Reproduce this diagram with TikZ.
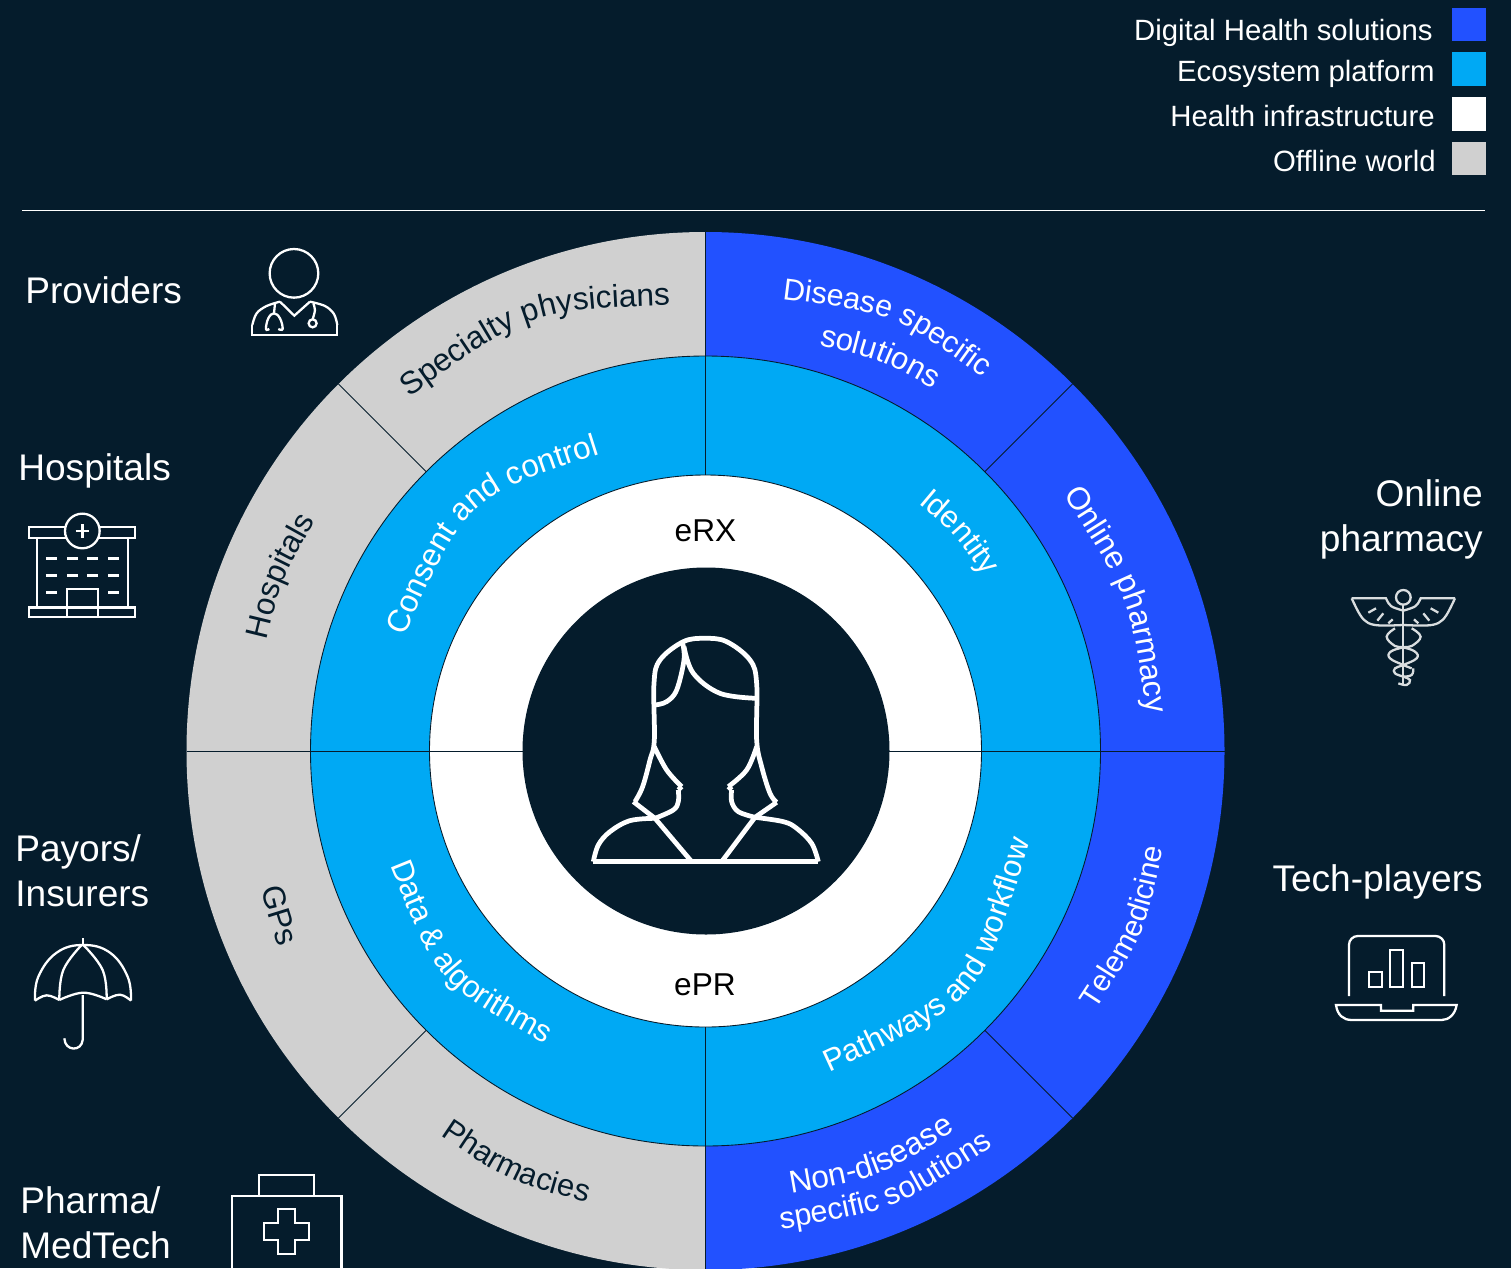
\documentclass[tikz,border=0pt]{standalone}
\usepackage{fontspec}
\usepackage{xcolor}
\usetikzlibrary{calc,decorations.text}
\setmainfont{Liberation Sans}
\definecolor{pagenavy}{HTML}{051C2C}
\definecolor{dhblue}{HTML}{2251FF}
\definecolor{ecocyan}{HTML}{00A9F4}
\definecolor{offgrey}{HTML}{D0D0D0}
\newcommand{\ringlabel}[6][18]{\path[decorate,decoration={text along path,text format delimiters={|}{|},text={|\fontsize{#1}{20}\selectfont\color{#2}|#6}}] #3 .. controls #4 .. #5 -- ($#5!-0.5!#4$);}

\begin{document}
\begin{tikzpicture}[x=0.02cm,y=-0.02cm,
                    seam/.style={draw=pagenavy,line width=0.5pt},
                    legendtext/.style={anchor=base east,inner sep=0pt,text=white,font=\fontsize{16.7}{20}\selectfont},
                    swatch/.style={inner sep=0pt,minimum width=0.68cm,minimum height=0.67cm},
                    grouptext/.style={anchor=base west,inner sep=0pt,text=white,align=left,font=\fontsize{21.1}{25.6}\selectfont},
                    grouptextr/.style={grouptext,anchor=base east,align=right},
                    ringtext/.style={inner sep=0pt,text=black,font=\fontsize{18}{20}\selectfont},
                    icon/.style={draw=white,line width=1.3pt,line join=miter}]
                        \clip (0,0) rectangle (1511,1268);
                        \fill[pagenavy] (0,0) rectangle (1511,1268);

                        \begin{scope}[shift={(705.5,751)},y=0.02cm]
                            \fill[offgrey] (90:519) arc[start angle=90,end angle=270,radius=519] -- cycle;
                            \fill[dhblue] (-90:519) arc[start angle=-90,end angle=90,radius=519] -- cycle;
                            \draw[seam,fill=ecocyan] (0,0) circle[radius=395];
                            \draw[seam,fill=white] (0,0) circle[radius=276];
                            \fill[pagenavy] (0.5,0) circle[radius=183.5];
                            \foreach \a in {45,135,225,315}
                                \draw[seam] (\a:395) -- (\a:519);
                            \foreach \a in {90,270}
                                \draw[seam] (\a:276) -- (\a:519);
                            \foreach \a in {0,180}
                                \draw[seam] (\a:183) -- (\a:519);
                        \end{scope}

                        \coordinate (rulel) at (22,210);
                        \coordinate (ruler) at (1485,210);
                        \draw[white,line width=0.5pt] (rulel) -- (ruler);

                        \node (legdigital) at (1433,40) [legendtext] {Digital Health solutions};
                        \node (legeco) at (1435,81) [legendtext] {Ecosystem platform};
                        \node (leghealth) at (1435,126) [legendtext] {Health infrastructure};
                        \node (legoffline) at (1436,171) [legendtext] {Offline world};
                        \node (swdigital) at (1469,24.5) [swatch,fill=dhblue] {};
                        \node (sweco) at (1469,69) [swatch,fill=ecocyan] {};
                        \node (swhealth) at (1469,114) [swatch,fill=white] {};
                        \node (swoffline) at (1469,158.5) [swatch,fill=offgrey] {};

                        \node (providers) at (25,303) [grouptext] {Providers};
                        \node (hospitals) at (18,480) [grouptext] {Hospitals};
                        \node (payors) at (15,906) [grouptext] {Payors/\\Insurers};
                        \node (pharma) at (20,1258) [grouptext] {Pharma/\\MedTech};
                        \node (online) at (1483,551) [grouptextr] {Online\\pharmacy};
                        \node (techplayers) at (1483,891) [grouptextr] {Tech-players};

                        \node (erx) at (705.5,531) [ringtext] {eRX};
                        \node (epr) at (705,985) [ringtext] {ePR};

                        \ringlabel{pagenavy}{(409,397)}{(530,310)}{(676,305)}{Specialty physicians}
                        \ringlabel{pagenavy}{(267,640)}{(281,582)}{(313,525)}{Hospitals}
                        \ringlabel{pagenavy}{(262,888)}{(269,918)}{(278,944)}{GPs}
                        \ringlabel[17.6]{pagenavy}{(440,1135)}{(508,1181)}{(585,1202)}{Pharmacies}
                        \ringlabel{white}{(404,636)}{(468,496)}{(610,451)}{Consent and control}
                        \ringlabel[17.6]{white}{(918,503)}{(955,534)}{(983,574)}{Identity}
                        \ringlabel[17.6]{white}{(390,865)}{(438,984)}{(546,1044)}{Data {\&} algorithms}
                        \ringlabel[17.7]{white}{(829,1072)}{(981,1002)}{(1028,848)}{Pathways and workflow}
                        \ringlabel[17.3]{white}{(782,299)}{(894,313)}{(985,379)}{Disease specific}
                        \ringlabel[17.7]{white}{(819,345)}{(880,359)}{(937,391)}{solutions}
                        \ringlabel{white}{(1063,494)}{(1130,598)}{(1147,714)}{Online pharmacy}
                        \ringlabel[17]{white}{(1095,1010)}{(1145,933)}{(1164,846)}{Telemedicine}
                        \ringlabel{white}{(791,1193)}{(878,1178)}{(953,1132)}{Non-disease}
                        \ringlabel[17.4]{white}{(781,1229)}{(895,1210)}{(992,1147)}{specific solutions}

                        % patient
                        \begin{scope}[shift={(560,610)},scale=0.3333,every path/.style={draw=white,line width=2.7pt}]
                            \draw plot[smooth,tension=.6] coordinates {(225,575) (248,530) (270,450) (283,390) (282,220) (300,150) (370,95) (435,85) (500,95) (570,150) (590,220) (590,390) (605,470) (630,550) (650,577)};
                            \draw plot[smooth,tension=.6] coordinates {(283,410) (320,480) (365,530)};
                            \draw (365,530) -- (355,540);
                            \draw plot[smooth,tension=.6] coordinates {(355,540) (355,575) (340,600) (285,625)};
                            \draw plot[smooth,tension=.6] coordinates {(590,410) (560,480) (505,530)};
                            \draw (505,530) -- (515,540);
                            \draw plot[smooth,tension=.6] coordinates {(515,540) (515,575) (535,605) (585,622)};
                            \draw (220,575) -- (285,625) -- (395,755);
                            \draw (650,577) -- (585,622) -- (485,755);
                            \draw plot[smooth,tension=.6] coordinates {(285,625) (210,632) (150,665) (115,705) (100,755)};
                            \draw (100,755) -- (775,755);
                            \draw plot[smooth,tension=.6] coordinates {(775,755) (755,700) (710,655) (670,635) (585,622)};
                            \draw plot[smooth,tension=.6] coordinates {(368,100) (372,150) (350,240) (320,275) (285,285)};
                            \draw plot[smooth,tension=.6] coordinates {(372,110) (400,190) (480,250) (590,265)};
                        \end{scope}

                        % doctor and hospital
                        \begin{scope}[shift={(0,230)},scale=0.3333,every path/.style={icon}]
                            \draw (882,130) circle[radius=73];
                            \draw (757,285) -- (757,315) -- (1012,315) -- (1012,285);
                            \draw plot[smooth,tension=.6] coordinates {(757,285) (770,250) (800,228) (840,215)};
                            \draw (840,215) -- (883,257) -- (930,215);
                            \draw plot[smooth,tension=.6] coordinates {(930,215) (975,228) (1002,252) (1012,285)};
                            \draw (825,222) -- (822,250);
                            \draw plot[smooth,tension=.7] coordinates {(808,297) (798,297) (805,265) (822,250) (840,265) (848,297) (835,297)};
                            \draw plot[smooth,tension=.6] coordinates {(940,220) (945,240) (938,268)};
                            \draw (938,280) circle[radius=12];

                            \draw (247,903) circle[radius=52];
                            \draw (195,892) -- (88,892) -- (88,923) -- (197,923);
                            \draw (299,892) -- (405,892) -- (405,923) -- (297,923);
                            \draw (110,923) -- (110,1133);
                            \draw (385,923) -- (385,1133);
                            \draw (88,1133) rectangle (405,1162);
                            \draw (200,1162) -- (200,1077) -- (295,1077) -- (295,1162);
                            \draw[line width=1.6pt] (227,903) -- (267,903) (247,883) -- (247,923);
                            \foreach \y in {985,1036}
                                \foreach \x in {138,202,262,325}
                                    \draw[line width=1.6pt] (\x,\y) -- ++(32,0);
                            \foreach \x in {138,325}
                                \draw[line width=1.6pt] (\x,1087) -- ++(32,0);
                        \end{scope}

                        % caduceus
                        \begin{scope}[shift={(1300,570)},scale=0.3333,every path/.style={draw=white!85!pagenavy,line width=1.3pt}]
                            \draw (310,82) circle[radius=22];
                            \draw (310,105) -- (310,345);
                            \draw (155,85) -- (258,85) .. controls (270,110) .. (310,122);
                            \draw (465,85) -- (362,85) .. controls (350,110) .. (310,122);
                            \draw (155,85) .. controls (195,170) .. (310,165);
                            \draw (465,85) .. controls (425,170) .. (310,165);
                            \draw (205,128) -- (228,115) (232,152) -- (250,130) (265,160) -- (278,148);
                            \draw (415,128) -- (392,115) (388,152) -- (370,130) (355,160) -- (342,148);
                            \draw plot[smooth,tension=.7] coordinates {(285,175) (260,200) (285,228) (310,232) (345,245) (350,265) (310,285) (285,295) (285,310) (310,320) (330,330) (320,345) (295,340)};
                            \draw plot[smooth,tension=.7] coordinates {(335,175) (362,200) (335,228) (310,232) (272,245) (270,265) (310,285) (335,295)};
                            \draw plot[smooth,tension=.7] coordinates {(340,295) (335,315) (310,320)};
                        \end{scope}

                        % laptop
                        \begin{scope}[shift={(1300,920)},scale=0.3333,every path/.style={icon}]
                            \draw[rounded corners=5pt] (147,228) -- (147,48) -- (433,48) -- (433,228);
                            \draw (207,155) rectangle (245,200);
                            \draw (270,90) rectangle (308,200);
                            \draw (335,128) rectangle (373,200);
                            \draw (108,255) -- (243,255) -- (243,272) -- (340,272) -- (340,255) -- (470,255) .. controls (465,285) and (445,300) .. (425,300) -- (155,300) .. controls (130,300) and (112,285) .. (108,255) -- cycle;
                        \end{scope}

                        % umbrella and medical case
                        \begin{scope}[shift={(0,920)},scale=0.3333,every path/.style={icon}]
                            \draw (250,55) -- (250,75);
                            \draw plot[smooth,tension=.7] coordinates {(105,242) (115,170) (170,98) (250,75) (330,98) (383,170) (393,242)};
                            \draw plot[smooth,tension=.7] coordinates {(105,242) (140,226) (178,240)};
                            \draw plot[smooth,tension=.7] coordinates {(178,240) (250,218) (320,238)};
                            \draw plot[smooth,tension=.7] coordinates {(320,238) (360,224) (393,242)};
                            \draw plot[smooth,tension=.7] coordinates {(178,240) (190,150) (245,75)};
                            \draw plot[smooth,tension=.7] coordinates {(320,238) (308,150) (250,75)};
                            \draw (248,225) -- (248,360) .. controls (245,395) and (195,395) .. (193,355);

                            \draw (695,1100) -- (695,828) -- (1025,828) -- (1025,1100);
                            \draw (777,828) -- (777,765) -- (943,765) -- (943,828);
                            \draw (835,868) -- (885,868) -- (885,910) -- (928,910) -- (928,960) -- (885,960) -- (885,1002) -- (835,1002) -- (835,960) -- (792,960) -- (792,910) -- (835,910) -- cycle;
                        \end{scope}
                \end{tikzpicture}
\end{document}
